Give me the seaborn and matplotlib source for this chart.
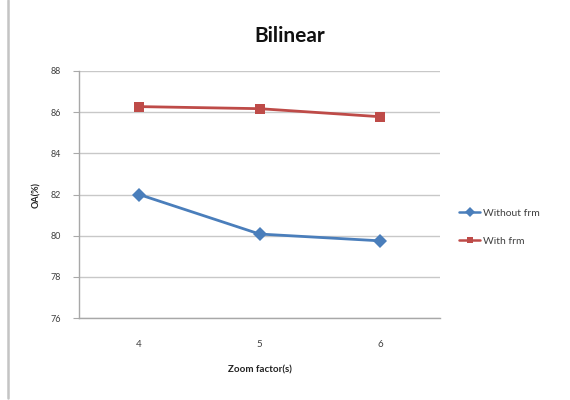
import matplotlib
matplotlib.use("Agg")
import matplotlib.pyplot as plt
from matplotlib.lines import Line2D
import seaborn as sns
import pandas as pd

zoom_factors = ["4", "5", "6"]
without_frm = [82.0, 80.08, 79.75]
with_frm = [86.27, 86.17, 85.78]
series_names = ["Without frm", "With frm"]
y_ticks = [76, 78, 80, 82, 84, 86, 88]

df = pd.DataFrame({
    "Zoom factor(s)": zoom_factors * 2,
    "OA(%)": without_frm + with_frm,
    "series": [series_names[0]] * 3 + [series_names[1]] * 3,
})

sns.set_theme(style="white")
plt.rcParams["font.family"] = ["Lato", "DejaVu Sans"]

fig = plt.figure(figsize=(5.7, 4.0), dpi=100)
ax = fig.add_axes([79 / 570, 1 - 318 / 400, (440 - 79) / 570, (318 - 71) / 400])

palette = {series_names[0]: "#4A7EBB", series_names[1]: "#BE4B48"}
markers = {series_names[0]: "D", series_names[1]: "s"}
sns.lineplot(data=df, x="Zoom factor(s)", y="OA(%)", hue="series", style="series",
             palette=palette, markers=markers, dashes=False, linewidth=2.0,
             markersize=7, markeredgewidth=0, ax=ax, legend=False, sort=False)

ax.set_xlim(-0.5, 2.5)
ax.set_ylim(76, 88)
ax.set_yticks(y_ticks)
ax.set_yticklabels([str(v) for v in y_ticks], fontsize=6.5, color="#404040")
ax.set_xticks([0, 1, 2])
ax.set_xticklabels(zoom_factors, fontsize=7, color="#404040")
ax.set_xticks([-0.5, 0.5, 1.5, 2.5], minor=True)
ax.tick_params(axis="x", which="major", length=0, pad=16)
ax.tick_params(axis="x", which="minor", length=3, color="#AAAAAA", width=0.8, direction="out")
ax.tick_params(axis="y", length=4, color="#AAAAAA", width=0.8, direction="out", pad=9, left=True)

ax.grid(axis="y", color="#C8C8C8", linewidth=1.0)
ax.set_axisbelow(True)
for side in ["top", "right"]:
    ax.spines[side].set_visible(False)
for side in ["left", "bottom"]:
    ax.spines[side].set_color("#A8A8A8")
    ax.spines[side].set_linewidth(1.0)

ax.set_xlabel("Zoom factor(s)", fontsize=7, fontweight="bold", color="#222222", labelpad=12)
ax.set_ylabel("OA(%)", fontsize=6.5, fontweight="bold", color="#222222", labelpad=7)

fig.text(290 / 570, 1 - 36 / 400, "Bilinear", ha="center", va="center",
         fontsize=15, fontweight="bold", color="#111111")

handles = [Line2D([0], [0], color=palette[n], marker=markers[n], markersize=5,
                  markeredgewidth=0, linewidth=1.8) for n in series_names]
fig.legend(handles, series_names, loc="center left", bbox_to_anchor=(450 / 570, 1 - 227 / 400),
           frameon=False, fontsize=7.5, handlelength=2.0, handletextpad=0.3,
           labelspacing=1.8, labelcolor="#404040")

fig.add_artist(Line2D([8 / 570, 8 / 570], [0.005, 1.0], transform=fig.transFigure,
                      color="#C4C4C4", linewidth=1.8))

fig.savefig("out.png", dpi=100)
